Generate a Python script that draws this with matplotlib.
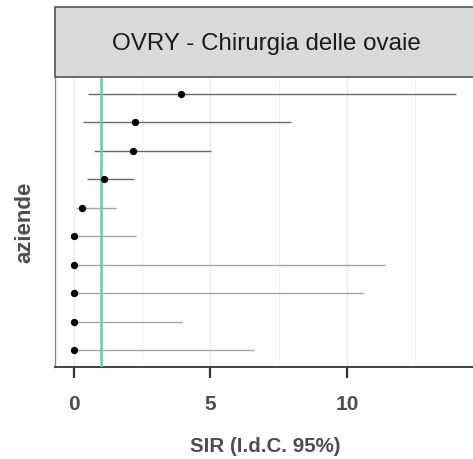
import numpy as np
import matplotlib
matplotlib.use("Agg")
import matplotlib.pyplot as plt
from matplotlib.patches import Rectangle

plt.rcParams['font.family'] = ['Liberation Sans', 'DejaVu Sans']

# SIR per azienda con intervallo di confidenza al 95%
aziende = ["A01", "A02", "A03", "A04", "A05", "A06", "A07", "A08", "A09", "A10"]
sir = [3.91, 2.23, 2.16, 1.11, 0.30, 0.0, 0.0, 0.0, 0.0, 0.0]
ic_low = [0.50, 0.32, 0.74, 0.48, 0.06, 0.0, 0.0, 0.0, 0.0, 0.0]
ic_high = [14.0, 7.96, 5.01, 2.21, 1.55, 2.27, 11.39, 10.62, 3.95, 6.60]
line_col = ["#6a6a6a", "#6a6a6a", "#6a6a6a", "#6a6a6a", "#a6a6a6",
            "#a6a6a6", "#a6a6a6", "#a6a6a6", "#a6a6a6", "#a6a6a6"]
riferimento = 1.0
titolo = "OVRY - Chirurgia delle ovaie"

W, H = 473, 459
fig = plt.figure(figsize=(W / 100, H / 100), dpi=100)

left, right, top, bottom = 55, 475, 77, 367
ax = fig.add_axes([left / W, 1 - bottom / H, (right - left) / W, (bottom - top) / H])

n = len(aziende)
y = np.arange(n)[::-1] + 1
for yi, lo, hi, c in zip(y, ic_low, ic_high, line_col):
    ax.hlines(yi, lo, hi, color=c, lw=1.0, zorder=2)
ax.scatter(sir, y, s=18, color="black", zorder=4)
ax.axvline(riferimento, color="#66cdaa", lw=1.8, zorder=3)

xmax = max(ic_high)
pad = xmax * 0.05
ax.set_xlim(-pad, xmax + pad)
ax.set_ylim(0.4, n + 0.6)
ax.set_xticks([0, 5, 10])
ax.set_xticks([2.5, 7.5, 12.5], minor=True)
ax.set_yticks([])
ax.grid(axis="x", which="major", color="#ebebeb", lw=1.0, zorder=0)
ax.grid(axis="x", which="minor", color="#f2f2f2", lw=0.8, zorder=0)

for s in ["top", "right"]:
    ax.spines[s].set_visible(False)
ax.spines["left"].set_color("#8a8a8a")
ax.spines["left"].set_linewidth(1.0)
ax.spines["bottom"].set_color("#333333")
ax.spines["bottom"].set_linewidth(1.3)
ax.tick_params(axis="x", which="major", length=8, width=1.6, color="#333333",
               labelsize=15, labelcolor="#4d4d4d", pad=12)
ax.tick_params(axis="x", which="minor", length=0)
for lab in ax.get_xticklabels():
    lab.set_fontweight("bold")

ax.set_xlabel("SIR (I.d.C. 95%)", fontsize=14.8, fontweight="bold", color="#4d4d4d", labelpad=17)
ax.set_ylabel("aziende", fontsize=16, fontweight="bold", color="#4d4d4d", labelpad=14)

# striscia del titolo
strip = Rectangle((left / W, 1 - top / H), (right - left) / W, (top - 7) / H,
                  transform=fig.transFigure, facecolor="#d9d9d9",
                  edgecolor="#555555", lw=1.2)
fig.patches.append(strip)
fig.text((left + 420 / 2 + 1) / W, 1 - 44 / H, titolo, ha="center", va="center",
         fontsize=17.4, color="#1a1a1a")

fig.savefig("out.png", dpi=100)
